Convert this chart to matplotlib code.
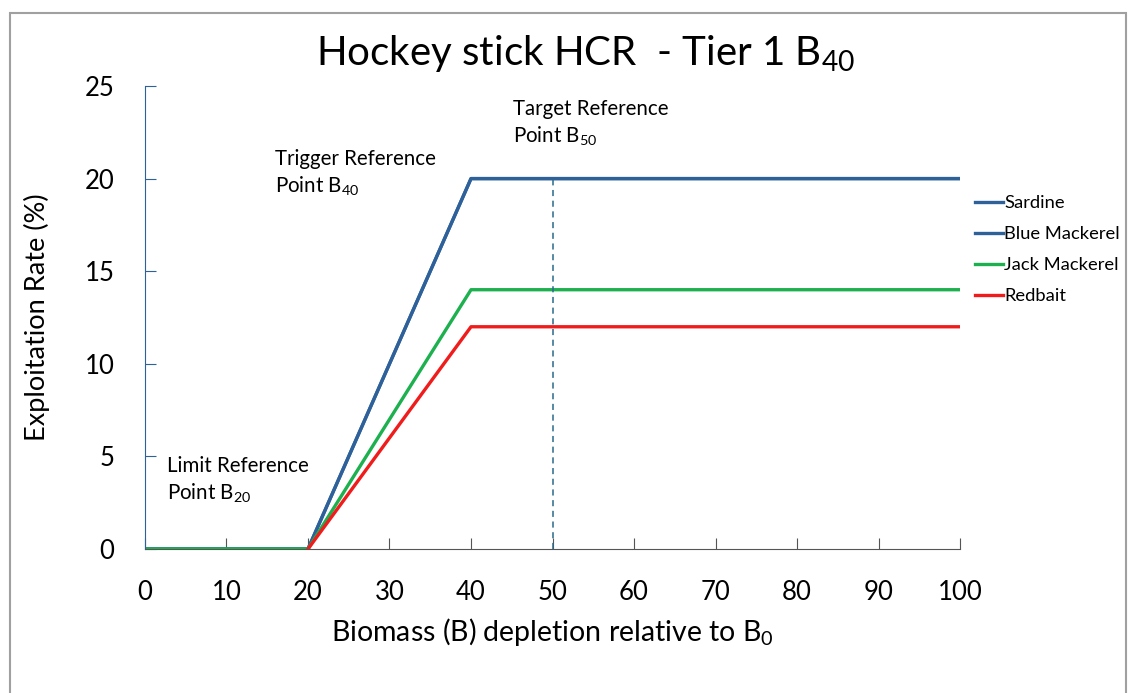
import matplotlib.pyplot as plt
from matplotlib.patches import Rectangle

plt.rcParams['font.family'] = ['Lato', 'DejaVu Sans']
plt.rcParams['mathtext.fontset'] = 'custom'
plt.rcParams['mathtext.rm'] = 'Lato'
plt.rcParams['mathtext.it'] = 'Lato'

# data
biomass = [0, 20, 40, 100]
sardine = [0, 0, 20, 20]
blue_mackerel = [0, 0, 20, 20]
jack_mackerel = [0, 0, 14, 14]
redbait_x = [20, 40, 100]
redbait = [0, 12, 12]
target_x = 50
target_top = 20

blue = '#2E619A'
fig = plt.figure(figsize=(11.3, 6.93), dpi=100)
ax = fig.add_axes([0.1283, 0.2078, 0.7213, 0.6681])

ax.plot(biomass, sardine, color=blue, lw=2.4, label='Sardine')
ax.plot(biomass, blue_mackerel, color=blue, lw=2.4, label='Blue Mackerel')
ax.plot(biomass, jack_mackerel, color='#1DB04F', lw=2.4, label='Jack Mackerel')
ax.plot(redbait_x, redbait, color='#F01C1C', lw=2.4, label='Redbait')
ax.plot([target_x, target_x], [0, target_top], color='#2A6A8C', lw=1.1, ls=(0, (4, 3)))

ax.set_xlim(0, 100)
ax.set_ylim(0, 25)
ax.set_xticks(range(0, 101, 10))
ax.set_yticks(range(0, 26, 5))
for s in ['top', 'right']:
    ax.spines[s].set_visible(False)
ax.spines['left'].set_color(blue)
ax.spines['bottom'].set_color('#555555')
ax.tick_params(axis='y', direction='in', length=8, color=blue, labelsize=18.5, pad=22)
ax.tick_params(axis='x', direction='in', length=8, color='#555555', labelsize=18.5, pad=22)
ax.set_xlabel('Biomass (B) depletion relative to B$_0$', fontsize=20.5)
ax.set_ylabel('Exploitation Rate (%)', fontsize=19.5)
ax.xaxis.set_label_coords(0.5, -0.145)
ax.yaxis.set_label_coords(-0.117, 0.5)

fig.text(0.518, 1 - 65 / 693, 'Hockey stick HCR  - Tier 1 B$_{40}$', ha='center', va='baseline',
         fontsize=29)

ax.text(15.9, 21.6, 'Trigger Reference\nPoint B$_{40}$', fontsize=14.8, va='top', linespacing=1.3)
ax.text(45.2, 24.3, 'Target Reference\nPoint B$_{50}$', fontsize=14.8, va='top', linespacing=1.3)
ax.text(2.7, 5.0, 'Limit Reference\nPoint B$_{20}$', fontsize=14.8, va='top', linespacing=1.3)

ax.legend(loc='upper left', bbox_to_anchor=(975 / 1130, 1 - 195 / 693), bbox_transform=fig.transFigure,
          frameon=False, fontsize=13.2, handlelength=1.5, handletextpad=0.1,
          labelspacing=0.82, borderpad=0, borderaxespad=0)

fig.patches.append(Rectangle((10 / 1130, -0.1), 1116 / 1130, 1.1 - 13 / 693,
                             transform=fig.transFigure, fill=False,
                             edgecolor='#A0A0A0', lw=1.5))

fig.savefig('out.png', dpi=100)
